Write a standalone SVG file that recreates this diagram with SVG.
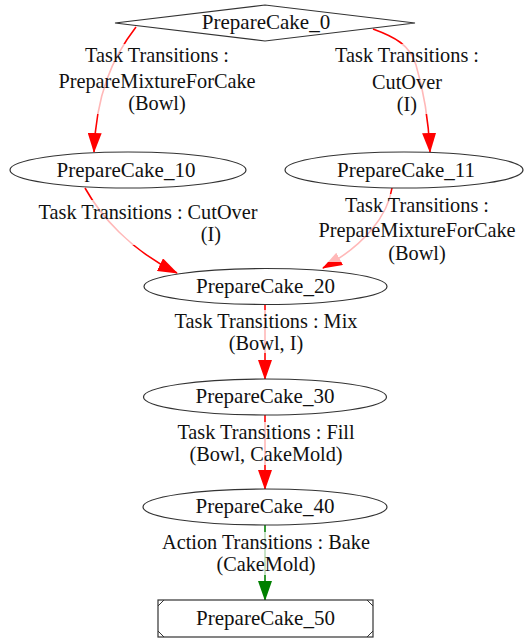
<svg xmlns="http://www.w3.org/2000/svg" width="524" height="641" viewBox="0 0 524 641">
<style>
text { font-family: "Liberation Serif", "Times New Roman", serif; font-size: 21px; fill: #111; text-anchor: middle; }
.el { font-size: 20.3px; }
.node { fill: #fff; stroke: #333; stroke-width: 1.2; }
.er { fill: none; stroke: #ff0000; stroke-width: 1.6; }
.eg { fill: none; stroke: #008000; stroke-width: 1.6; }
.lb { fill: #fff; fill-opacity: 0.72; stroke: none; }
</style>
<defs>
<marker id="ar" viewBox="0 0 20 14" refX="19" refY="7" markerWidth="20" markerHeight="14" markerUnits="userSpaceOnUse" orient="auto">
<path d="M0,0 L20,7 L0,14 z" fill="#ff0000"/>
</marker>
<marker id="ag" viewBox="0 0 20 14" refX="19" refY="7" markerWidth="20" markerHeight="14" markerUnits="userSpaceOnUse" orient="auto">
<path d="M0,0 L20,7 L0,14 z" fill="#008000"/>
</marker>
</defs>
<rect width="524" height="641" fill="#fff"/>
<g id="connectors">
<path class="er" d="M136,27 C112,58 96,95 94,152" marker-end="url(#ar)"/>
<path class="er" d="M373,29 C395,37 410,45 416,65 C422,85 428,110 430,152" marker-end="url(#ar)"/>
<path class="er" d="M85,188 C100,215 130,250 177,273" marker-end="url(#ar)"/>
<path class="er" d="M392,188 C388,215 365,245 323,268" marker-end="url(#ar)"/>
<path class="er" d="M265,305 L265,379" marker-end="url(#ar)"/>
<path class="er" d="M265,415 L265,489" marker-end="url(#ar)"/>
<path class="eg" d="M265,525 L265,600" marker-end="url(#ag)"/>
<g id="labels">
<rect class="lb" x="54" y="44" width="206" height="70"/>
<text class="el" x="157" y="62">Task Transitions :</text>
<text class="el" x="157" y="88">PrepareMixtureForCake</text>
<text class="el" x="157" y="110">(Bowl)</text>
<rect class="lb" x="333" y="44" width="150" height="70"/>
<text class="el" x="407" y="62">Task Transitions :</text>
<text class="el" x="407" y="89">CutOver</text>
<text class="el" x="407" y="111">(I)</text>
<rect class="lb" x="33" y="200" width="230" height="45"/>
<text class="el" x="148" y="218.5">Task Transitions : CutOver</text>
<text class="el" x="211" y="241">(I)</text>
<rect class="lb" x="287" y="194" width="236" height="68"/>
<text class="el" x="417" y="212">Task Transitions :</text>
<text class="el" x="417" y="237">PrepareMixtureForCake</text>
<text class="el" x="417" y="259.5">(Bowl)</text>
<rect class="lb" x="175" y="310" width="181" height="43"/>
<text class="el" x="266" y="327.5">Task Transitions : Mix</text>
<text class="el" x="266" y="349.5">(Bowl, I)</text>
<rect class="lb" x="173" y="422" width="186" height="43"/>
<text class="el" x="266" y="438.5">Task Transitions : Fill</text>
<text class="el" x="266" y="461">(Bowl, CakeMold)</text>
<rect class="lb" x="157" y="532" width="219" height="43"/>
<text class="el" x="266" y="548.5">Action Transitions : Bake</text>
<text class="el" x="266" y="571">(CakeMold)</text>
</g>
</g>
<g id="PrepareCake_0">
<polygon class="node" points="115,23 265,5 415,23 265,41"/>
<text x="266" y="29">PrepareCake_0</text>
</g>
<g id="PrepareCake_10">
<ellipse class="node" cx="128" cy="170" rx="118" ry="18"/>
<text x="126" y="177">PrepareCake_10</text>
</g>
<g id="PrepareCake_11">
<ellipse class="node" cx="404" cy="170" rx="119" ry="18"/>
<text x="406" y="177">PrepareCake_11</text>
</g>
<g id="PrepareCake_20">
<ellipse class="node" cx="265.5" cy="286.5" rx="121.5" ry="18"/>
<text x="265.5" y="293">PrepareCake_20</text>
</g>
<g id="PrepareCake_30">
<ellipse class="node" cx="265" cy="397" rx="121.5" ry="18"/>
<text x="265" y="403">PrepareCake_30</text>
</g>
<g id="PrepareCake_40">
<ellipse class="node" cx="265" cy="507" rx="122" ry="18"/>
<text x="265" y="513">PrepareCake_40</text>
</g>
<g id="PrepareCake_50">
<rect class="node" x="158" y="600" width="215" height="37"/>
<path d="M158,606 L164,600 M367,600 L373,606 M373,631 L367,637 M164,637 L158,631" fill="none" stroke="#333" stroke-width="1"/>
<text x="265.5" y="625">PrepareCake_50</text>
</g>
</svg>
